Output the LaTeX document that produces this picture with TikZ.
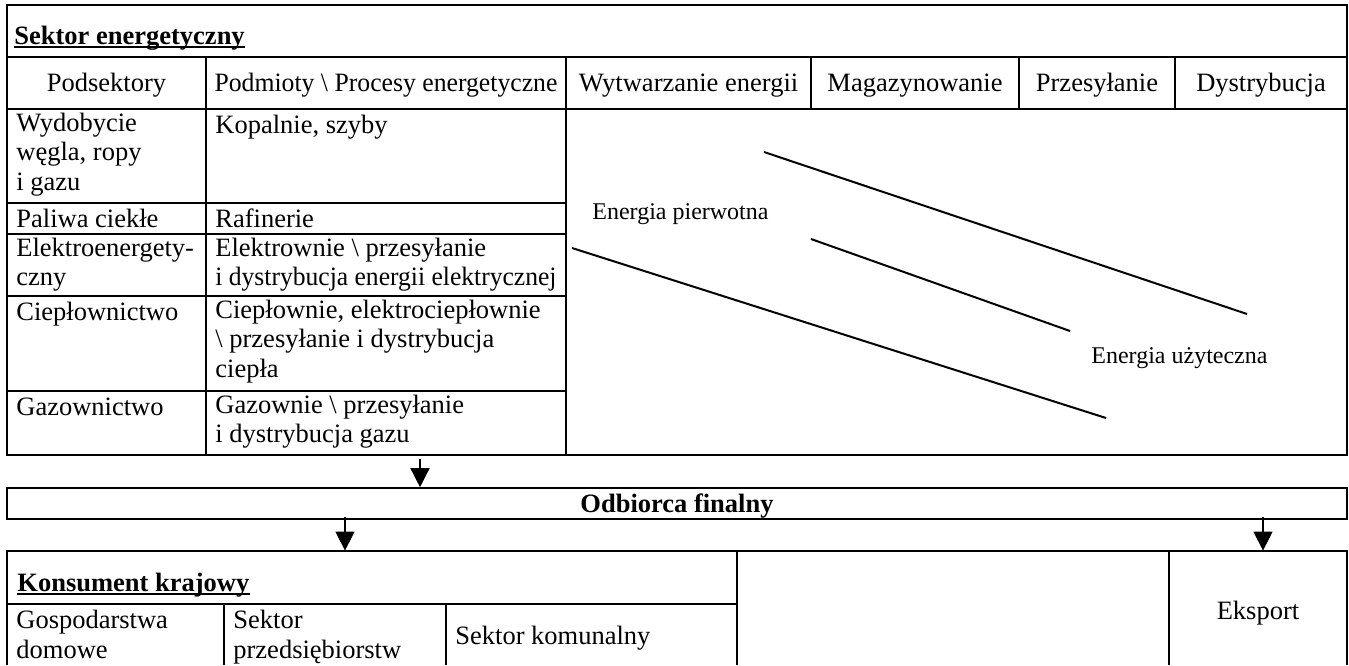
\documentclass[tikz,border=0pt]{standalone}
\usepackage{fontspec}
\usepackage{graphicx}
\setmainfont{Liberation Serif}
\usetikzlibrary{arrows.meta,fit}

\newcommand\cellfont{\fontsize{13.25}{14.75}\selectfont}
\newcommand\flowfont{\fontsize{12}{14}\selectfont}
\newcommand\narrow[2]{\scalebox{#1}[1]{#2}}

\tikzset{
  grid/.style={line width=0.8pt},
  frame/.style={draw, line width=0.8pt, inner sep=0pt},
  area/.style={inner sep=0pt},
  cell/.style={font=\cellfont, inner sep=0pt, anchor=north west, align=left,
               execute at begin node=\strut},
  head/.style={font=\cellfont, inner sep=0pt, anchor=base},
  title/.style={font=\cellfont\bfseries, inner sep=0pt, anchor=base west},
  uline/.style={line width=0.9pt},
  flowline/.style={line width=1pt},
  flowtext/.style={font=\flowfont, inner sep=0pt, anchor=base west},
  arr/.style={line width=0.7pt, -{Triangle[width=9.5pt,length=9.5pt]}},
}

\begin{document}
\begin{tikzpicture}[x=0.5pt,y=-0.5pt]
\useasboundingbox (0,0) rectangle (1349,665);

% energy sector table
\node[frame, fit={(7,5) (1347,455)}] (sektor) {};
\draw[grid] (7,57) -- (1347,57);
\draw[grid] (7,109) -- (1347,109);
\foreach \x in {206,566,811,1019,1175} \draw[grid] (\x,57) -- (\x,109);
\draw[grid] (206,109) -- (206,455);
\draw[grid] (566,109) -- (566,455);
\foreach \y in {203,234,296,391} \draw[grid] (7,\y) -- (566,\y);

\node[title] (sekt) at (14,44) {Sektor energetyczny};
\draw[uline] ([yshift=-1.5pt]sekt.base west) -- ([yshift=-1.5pt]sekt.base east);

\node[head] (hpod) at (106.5,91) {Podsektory};
\node[head] (hpro) at (386,91) {\narrow{0.97}{Podmioty \textbackslash{} Procesy energetyczne}};
\node[head] (hwyt) at (688.5,91) {Wytwarzanie energii};
\node[head] (hmag) at (915,91) {Magazynowanie};
\node[head] (hprz) at (1097,91) {Przesyłanie};
\node[head] (hdys) at (1261,91) {Dystrybucja};

\node[cell] (s1) at (16,112.5) {Wydobycie\\węgla, ropy\\i gazu};
\node[cell] (p1) at (215,112.5) {Kopalnie, szyby};
\node[cell] (s2) at (16,206.5) {Paliwa ciekłe};
\node[cell] (p2) at (215,206.5) {Rafinerie};
\node[cell] (s3) at (16,237.5) {Elektroenergety-\\czny};
\node[cell] (p3) at (215,237.5) {Elektrownie \textbackslash{} przesyłanie\\\narrow{0.965}{i dystrybucja energii elektrycznej}};
\node[cell] (s4) at (16,299.5) {Ciepłownictwo};
\node[cell] (p4) at (215,299.5) {Ciepłownie, elektrociepłownie\\\textbackslash{} przesyłanie i dystrybucja\\ciepła};
\node[cell] (s5) at (16,394.5) {Gazownictwo};
\node[cell] (p5) at (215,394.5) {Gazownie \textbackslash{} przesyłanie\\i dystrybucja gazu};

% energy flow from primary to useful energy
\draw[flowline] (764,152) -- (1247,314);
\draw[flowline] (811,239) -- (1070,331);
\draw[flowline] (572,248) -- (1106,418);
\node[flowtext] (prim) at (592,219) {Energia pierwotna};
\node[flowtext] (uzyt) at (1091,363) {Energia użyteczna};

% final consumer
\node[frame, fit={(7,488) (1347,519)}] (odb) {};
\node[font=\cellfont\bfseries, inner sep=0pt, anchor=base] (odbt) at (677,512) {Odbiorca finalny};

% consumer groups
\node[area, fit={(7,551) (737,665)}] (kons) {};
\node[area, fit={(737,551) (1169,665)}] (mid) {};
\node[area, fit={(1169,551) (1347,665)}] (eks) {};
\draw[grid] (7,665) -- (7,551) -- (1347,551) -- (1347,665);
\draw[grid] (737,551) -- (737,665);
\draw[grid] (1169,551) -- (1169,665);
\draw[grid] (7,604) -- (737,604);
\draw[grid] (224,604) -- (224,665);
\draw[grid] (446,604) -- (446,665);

\node[title] (kont) at (17,591) {Konsument krajowy};
\draw[uline] ([yshift=-1.5pt]kont.base west) -- ([yshift=-1.5pt]kont.base east);

\node[cell] (k1) at (16,610) {Gospodarstwa\\domowe};
\node[cell] (k2) at (233,610) {Sektor\\przedsiębiorstw};
\node[cell] (k3) at (455,623.5) {Sektor komunalny};
\node[head] (ekst) at (1258,619) {Eksport};

% flow arrows
\coordinate (t1) at (420,459);
\coordinate (t2) at (345,517);
\coordinate (t3) at (1263,517);
\draw[arr] (t1) -- (t1 |- odb.north);
\draw[arr] (t2) -- (t2 |- kons.north);
\draw[arr] (t3) -- (t3 |- eks.north);
\end{tikzpicture}
\end{document}
